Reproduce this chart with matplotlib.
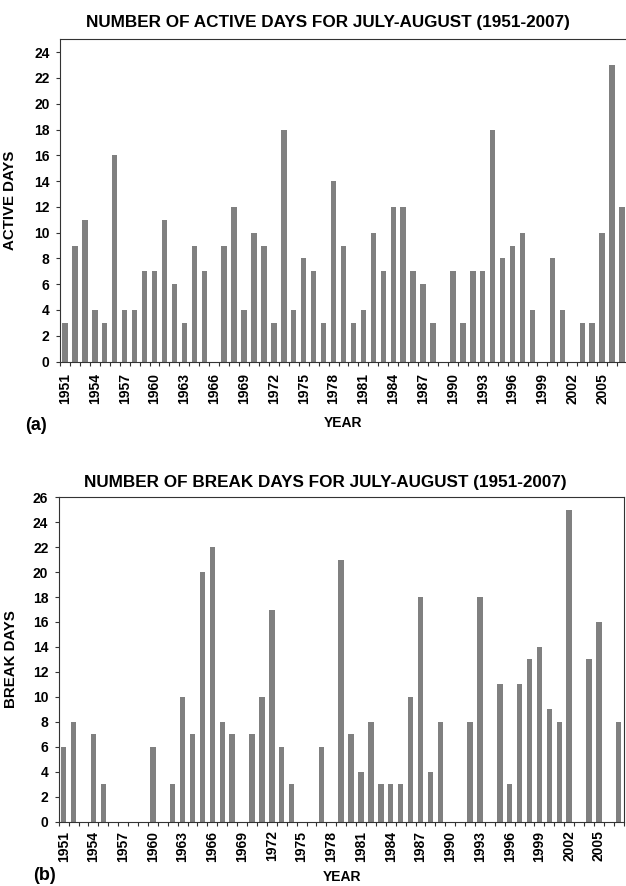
import numpy as np
import matplotlib
matplotlib.use("Agg")
import matplotlib.pyplot as plt
from matplotlib.ticker import FixedLocator

plt.rcParams['font.family'] = ['Liberation Sans', 'DejaVu Sans']
plt.rcParams['font.weight'] = 'bold'

# Data
years = list(range(1951, 2008))
active_days = [3, 9, 11, 4, 3, 16, 4, 4, 7, 7,
               11, 6, 3, 9, 7, 0, 9, 12, 4, 10,
               9, 3, 18, 4, 8, 7, 3, 14, 9, 3,
               4, 10, 7, 12, 12, 7, 6, 3, 0, 7,
               3, 7, 7, 18, 8, 9, 10, 4, 0, 8,
               4, 0, 3, 3, 10, 23, 12]
break_days = [6, 8, 0, 7, 3, 0, 0, 0, 0, 6,
              0, 3, 10, 7, 20, 22, 8, 7, 0, 7,
              10, 17, 6, 3, 0, 0, 6, 0, 21, 7,
              4, 8, 3, 3, 3, 10, 18, 4, 8, 0,
              0, 8, 18, 0, 11, 3, 11, 13, 14, 9,
              8, 25, 0, 13, 16, 0, 8]
tick_years = years[::3]

BAR = '#808080'
EDGE = '#333333'

W, H = 626, 886
fig = plt.figure(figsize=(W / 100, H / 100), dpi=100)


def px_axes(left, top, right, bottom):
    return fig.add_axes([left / W, 1 - bottom / H, (right - left) / W, (bottom - top) / H])


def draw(ax, values, ymax, ytop, ylabel, xpad):
    x = np.arange(len(years))
    ax.bar(x, values, width=0.55, color=BAR, linewidth=0)
    ax.set_xlim(-0.5, len(years) - 0.5)
    ax.set_ylim(0, ymax)
    ax.set_yticks(np.arange(0, ytop + 1, 2))
    ax.tick_params(axis='y', direction='out', length=3, width=0.8, pad=4.5,
                   labelsize=10, color=EDGE)
    # ticks on category boundaries, labels every 3 years at bar centres
    ax.xaxis.set_minor_locator(FixedLocator(np.arange(-0.5, len(years), 1.0)))
    ax.set_xticks([years.index(y) for y in tick_years])
    ax.set_xticklabels([str(y) for y in tick_years], rotation=90, fontsize=10,
                       fontweight='bold')
    ax.tick_params(axis='x', which='major', length=0, pad=xpad)
    ax.tick_params(axis='x', which='minor', direction='out', length=3, width=0.8,
                   color=EDGE)
    for lbl in ax.get_yticklabels():
        lbl.set_fontweight('bold')
    ax.set_ylabel(ylabel, fontsize=10.8, fontweight='bold')
    for s in ax.spines.values():
        s.set_linewidth(0.8)
        s.set_color(EDGE)


ax1 = px_axes(60, 39.3, 627, 361.5)
draw(ax1, active_days, 25, 24, 'ACTIVE DAYS', 8.5)
ax1.yaxis.set_label_coords(17 / W, 1 - 200 / H, transform=fig.transFigure)

ax2 = px_axes(58.7, 497.3, 623.7, 821.5)
draw(ax2, break_days, 26, 26, 'BREAK DAYS', 6.5)
ax2.yaxis.set_label_coords(18 / W, 1 - 659 / H, transform=fig.transFigure)

fig.text(328 / W, 1 - 22 / H, 'NUMBER OF ACTIVE DAYS FOR JULY-AUGUST (1951-2007)',
         ha='center', va='center', fontsize=12.3, fontweight='bold')
fig.text(325 / W, 1 - 482 / H, 'NUMBER OF BREAK DAYS FOR JULY-AUGUST (1951-2007)',
         ha='center', va='center', fontsize=12.3, fontweight='bold')

fig.text(343 / W, 1 - 423 / H, 'YEAR', ha='center', va='center', fontsize=10,
         fontweight='bold')
fig.text(342 / W, 1 - 877 / H, 'YEAR', ha='center', va='center', fontsize=10,
         fontweight='bold')
fig.text(36 / W, 1 - 425 / H, '(a)', ha='center', va='center', fontsize=13,
         fontweight='bold')
fig.text(44 / W, 1 - 876 / H, '(b)', ha='center', va='center', fontsize=13,
         fontweight='bold')

fig.savefig('out.png', dpi=100)
